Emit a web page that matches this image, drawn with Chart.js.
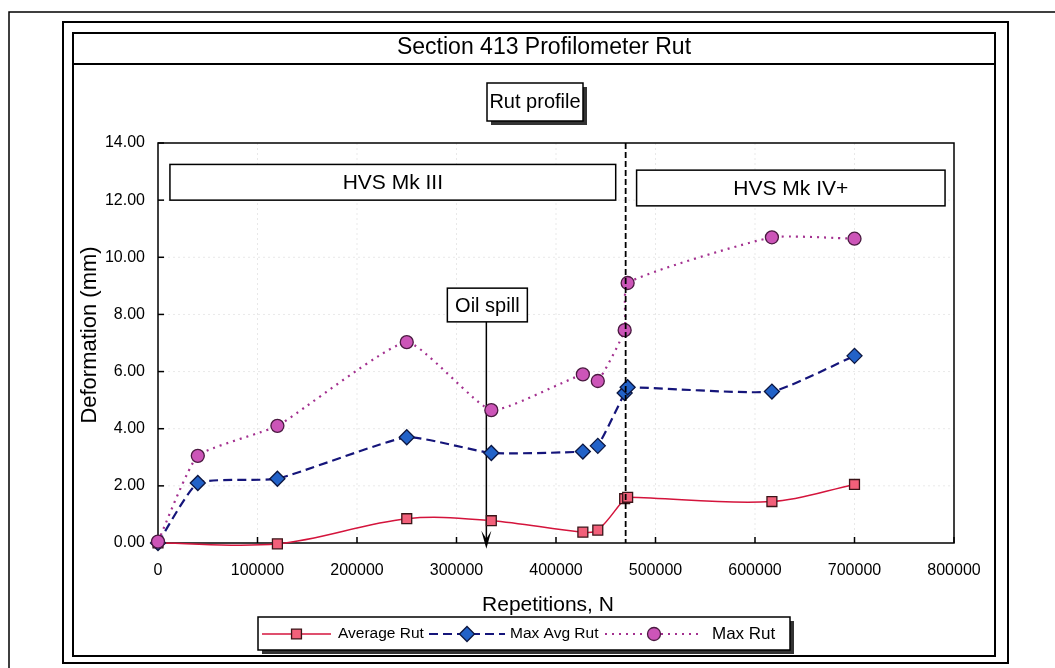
<!DOCTYPE html>
<html>
<head>
<meta charset="utf-8">
<title>Section 413 Profilometer Rut</title>
<script src="https://cdn.jsdelivr.net/npm/chart.js@4.4.0/dist/chart.umd.min.js"></script>
<style>
  html, body { margin: 0; padding: 0; background: #fff; }
  canvas { display: block; }
</style>
</head>
<body>
<canvas id="myChart" width="1055" height="668"></canvas>
<script>
// Chart data

const reps       = [0, 40000, 120000, 250000, 335000, 427000, 442000, 469000, 472000, 617000, 700000];
const averageRut = [0, null, -0.03, 0.85, 0.78, 0.38, 0.45, 1.55, 1.6, 1.45, 2.05];
const maxAvgRut  = [0, 2.1, 2.25, 3.7, 3.15, 3.2, 3.4, 5.25, 5.45, 5.3, 6.55];
const maxRut     = [0.05, 3.05, 4.1, 7.03, 4.65, 5.9, 5.67, 7.45, 9.1, 10.7, 10.65];

const seriesNames = ['Average Rut', 'Max Avg Rut', 'Max Rut'];
const xTicks = [0, 100000, 200000, 300000, 400000, 500000, 600000, 700000, 800000];
const yTicks = [0, 2, 4, 6, 8, 10, 12, 14];

// Notes on the chart (in data units)
const phases = [
  { label: 'HVS Mk III', from: 12000, to: 460000, top: 13.25, bottom: 12.0 },
  { label: 'HVS Mk IV+', from: 481000, to: 791000, top: 13.05, bottom: 11.8 }
];
const changeover = 470000;
const oilSpill = { label: 'Oil spill', at: 330000, top: 8.92, bottom: 7.74, tip: -0.2 };

const SANS = "'Liberation Sans', Arial, Helvetica, sans-serif";

function toPoints(values) {
  return reps.map((x, i) => ({ x: x, y: values[i] }));
}

function rect(ctx, x1, y1, x2, y2, width) {
  ctx.lineWidth = width;
  ctx.strokeStyle = '#000';
  ctx.strokeRect(x1, y1, x2 - x1, y2 - y1);
}

function shadowBox(ctx, x1, y1, x2, y2) {
  ctx.fillStyle = '#333';
  ctx.fillRect(x1 + 4, y1 + 4, x2 - x1, y2 - y1);
  ctx.fillStyle = '#fff';
  ctx.fillRect(x1, y1, x2 - x1, y2 - y1);
  rect(ctx, x1, y1, x2, y2, 1.5);
}

function text(ctx, str, x, y, size, align) {
  ctx.font = size + 'px ' + SANS;
  ctx.fillStyle = '#000';
  ctx.textAlign = align || 'center';
  ctx.textBaseline = 'middle';
  ctx.fillText(str, x, y);
}

// Frames, titles and legend around the plot
const framePlugin = {
  id: 'frames',
  beforeDraw(chart) {
    const ctx = chart.ctx;
    ctx.save();
    ctx.fillStyle = '#fff';
    ctx.fillRect(0, 0, chart.width, chart.height);
    rect(ctx, 9, 12, 1070, 690, 1.5);
    rect(ctx, 63, 22, 1008, 663, 2);
    rect(ctx, 73, 33, 995, 656, 2);
    ctx.beginPath();
    ctx.moveTo(73, 64);
    ctx.lineTo(995, 64);
    ctx.stroke();
    text(ctx, 'Section 413 Profilometer Rut', 544, 48, 23);

    shadowBox(ctx, 487, 83, 583, 121);
    text(ctx, 'Rut profile', 535, 102, 20);

    // axis titles
    text(ctx, 'Repetitions, N', 548, 605, 21);
    ctx.save();
    ctx.translate(90, 335);
    ctx.rotate(-Math.PI / 2);
    text(ctx, 'Deformation (mm)', 0, 0, 22);
    ctx.restore();
    ctx.restore();
  },
  afterDraw(chart) {
    const ctx = chart.ctx;
    ctx.save();
    shadowBox(ctx, 258, 617, 790, 650);
    const y = 634;
    const items = [
      { x1: 262, x2: 331, tx: 338 },
      { x1: 429, x2: 505, tx: 510 },
      { x1: 605, x2: 703, tx: 712 }
    ];
    const sizes = [15.5, 15.5, 17];
    chart.data.datasets.forEach((ds, i) => {
      const it = items[i];
      ctx.save();
      ctx.strokeStyle = ds.borderColor;
      ctx.lineWidth = ds.borderWidth;
      ctx.setLineDash(ds.borderDash || []);
      ctx.beginPath();
      ctx.moveTo(it.x1, y);
      ctx.lineTo(it.x2, y);
      ctx.stroke();
      ctx.setLineDash([]);
      ctx.fillStyle = ds.pointBackgroundColor;
      ctx.strokeStyle = ds.pointBorderColor;
      ctx.lineWidth = ds.pointBorderWidth;
      Chart.helpers.drawPoint(ctx, {
        pointStyle: ds.pointStyle, radius: ds.pointRadius, rotation: 0, borderWidth: ds.pointBorderWidth
      }, (it.x1 + it.x2) / 2, y);
      ctx.restore();
      text(ctx, ds.label, it.tx, y, sizes[i], 'left');
    });
    ctx.restore();
  }
};

// Grid, inner tick marks, plot border and notes inside the plot
const notesPlugin = {
  id: 'notes',
  beforeDatasetsDraw(chart) {
    const { ctx, chartArea: a, scales: { x, y } } = chart;
    ctx.save();
    ctx.strokeStyle = 'rgba(0,0,0,0.09)';
    ctx.lineWidth = 1;
    ctx.setLineDash([2, 3]);
    yTicks.slice(1, -1).forEach(v => {
      const py = y.getPixelForValue(v);
      ctx.beginPath(); ctx.moveTo(a.left, py); ctx.lineTo(a.right, py); ctx.stroke();
    });
    xTicks.slice(1, -1).forEach(v => {
      const px = x.getPixelForValue(v);
      ctx.beginPath(); ctx.moveTo(px, a.top); ctx.lineTo(px, a.bottom); ctx.stroke();
    });
    ctx.setLineDash([]);

    // inside tick marks
    ctx.strokeStyle = '#000';
    ctx.lineWidth = 1.5;
    xTicks.forEach(v => {
      const px = x.getPixelForValue(v);
      ctx.beginPath(); ctx.moveTo(px, a.bottom); ctx.lineTo(px, a.bottom - 6); ctx.stroke();
    });
    yTicks.forEach(v => {
      const py = y.getPixelForValue(v);
      ctx.beginPath(); ctx.moveTo(a.left, py); ctx.lineTo(a.left + 6, py); ctx.stroke();
    });
    rect(ctx, a.left, a.top, a.right, a.bottom, 1.5);

    // phase boxes
    phases.forEach(p => {
      const x1 = x.getPixelForValue(p.from), x2 = x.getPixelForValue(p.to);
      const y1 = y.getPixelForValue(p.top), y2 = y.getPixelForValue(p.bottom);
      ctx.fillStyle = '#fff';
      ctx.fillRect(x1, y1, x2 - x1, y2 - y1);
      rect(ctx, x1, y1, x2, y2, 1.5);
      text(ctx, p.label, (x1 + x2) / 2, (y1 + y2) / 2 + 1, 21);
    });

    // oil spill arrow
    const ox = x.getPixelForValue(oilSpill.at);
    const oy1 = y.getPixelForValue(oilSpill.top), oy2 = y.getPixelForValue(oilSpill.bottom);
    const tip = y.getPixelForValue(oilSpill.tip);
    ctx.strokeStyle = '#000';
    ctx.lineWidth = 1.5;
    ctx.beginPath(); ctx.moveTo(ox, oy2); ctx.lineTo(ox, tip - 6); ctx.stroke();
    ctx.fillStyle = '#000';
    ctx.beginPath();
    ctx.moveTo(ox, tip);
    ctx.lineTo(ox - 5, tip - 18);
    ctx.lineTo(ox, tip - 10);
    ctx.lineTo(ox + 5, tip - 18);
    ctx.closePath();
    ctx.fill();
    ctx.fillStyle = '#fff';
    ctx.fillRect(ox - 39, oy1, 80, oy2 - oy1);
    rect(ctx, ox - 39, oy1, ox + 41, oy2, 1.5);
    text(ctx, oilSpill.label, ox + 1, (oy1 + oy2) / 2 + 1, 20);
    ctx.restore();
  },
  afterDatasetsDraw(chart) {
    const { ctx, chartArea: a, scales: { x } } = chart;
    const px = x.getPixelForValue(changeover);
    ctx.save();
    ctx.strokeStyle = '#000';
    ctx.lineWidth = 1.8;
    ctx.setLineDash([6, 3]);
    ctx.beginPath(); ctx.moveTo(px, a.top); ctx.lineTo(px, a.bottom); ctx.stroke();
    ctx.restore();
  }
};

const ctx = document.getElementById('myChart');

new Chart(ctx, {
  type: 'line',
  data: {
    datasets: [
      {
        label: seriesNames[0],
        data: toPoints(averageRut),
        order: 2,
        borderColor: '#d4143c',
        borderWidth: 1.5,
        borderDash: [],
        pointStyle: 'rect',
        pointRadius: 7,
        pointBackgroundColor: '#f2607a',
        pointBorderColor: '#3a1418',
        pointBorderWidth: 1.3,
        tension: 0.35,
        spanGaps: true,
        clip: 12
      },
      {
        label: seriesNames[1],
        data: toPoints(maxAvgRut),
        order: 1,
        borderColor: '#15157a',
        borderWidth: 2.2,
        borderDash: [9, 5],
        pointStyle: 'rectRot',
        pointRadius: 7.5,
        pointBackgroundColor: '#2262c8',
        pointBorderColor: '#0c1640',
        pointBorderWidth: 1.3,
        tension: 0.15,
        clip: 12
      },
      {
        label: seriesNames[2],
        data: toPoints(maxRut),
        order: 0,
        borderColor: '#a3308f',
        borderWidth: 2.2,
        borderDash: [2, 5],
        pointStyle: 'circle',
        pointRadius: 6.5,
        pointBackgroundColor: '#cc55b8',
        pointBorderColor: '#4a1a40',
        pointBorderWidth: 1.3,
        tension: 0.15,
        clip: 12
      }
    ]
  },
  options: {
    responsive: false,
    animation: false,
    devicePixelRatio: 1,
    layout: { padding: { left: 0, right: 101, top: 143, bottom: 85 } },
    plugins: {
      legend: { display: false },
      title: { display: false },
      tooltip: { enabled: false }
    },
    scales: {
      x: {
        type: 'linear',
        min: 0,
        max: 800000,
        afterBuildTicks: s => { s.ticks = xTicks.map(v => ({ value: v })); },
        ticks: {
          padding: 18,
          color: '#000',
          maxRotation: 0,
          autoSkip: false,
          font: { family: SANS, size: 16 },
          callback: v => String(v)
        },
        grid: { display: false, drawTicks: false },
        border: { display: false },
        afterFit: s => { s.height = 40; }
      },
      y: {
        min: 0,
        max: 14,
        afterBuildTicks: s => { s.ticks = yTicks.map(v => ({ value: v })); },
        ticks: {
          padding: 13,
          color: '#000',
          font: { family: SANS, size: 16 },
          callback: v => v.toFixed(2)
        },
        grid: { display: false, drawTicks: false },
        border: { display: false },
        afterFit: s => { s.width = 158; }
      }
    }
  },
  plugins: [framePlugin, notesPlugin]
});
</script>
</body>
</html>
